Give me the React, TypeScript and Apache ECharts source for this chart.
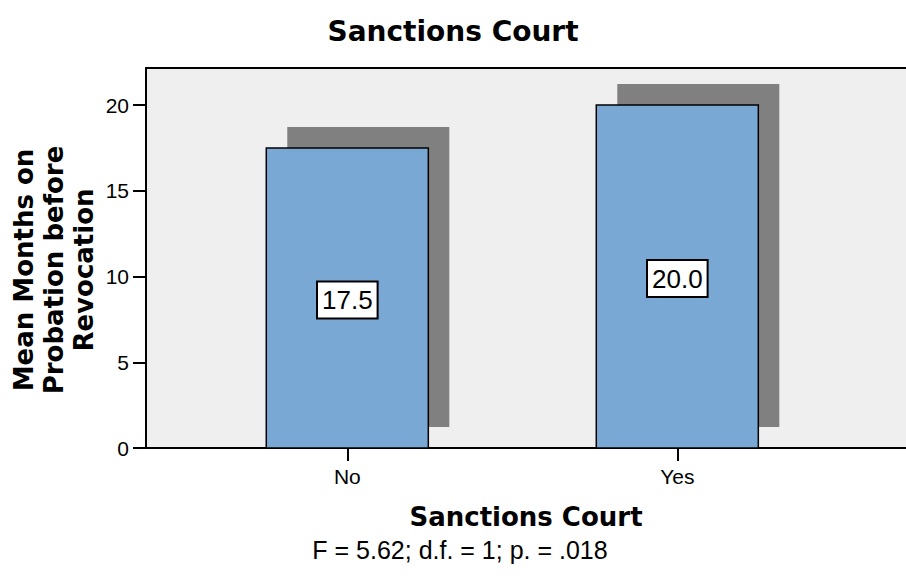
import React, { useEffect, useRef } from "react";
import * as echarts from "echarts";

const categories = ["No", "Yes"];
const means = [17.5, 20.0];
const yTickValues = [0, 5, 10, 15, 20];
const chartTitle = "Sanctions Court";
const xTitle = "Sanctions Court";
const yTitle = "Mean Months on\nProbation before\nRevocation";
const footnote = "F = 5.62; d.f. = 1; p. = .018";

const BAR_W = 0.491;
const SHADOW = 21;
const BAR_COLOR = "#7aa8d5";
const SHADOW_COLOR = "#808080";
const SANS = "'Liberation Sans', Arial, sans-serif";
const BOLD = "'DejaVu Sans', sans-serif";

export default function App() {
  const ref = useRef<HTMLDivElement>(null);
  useEffect(() => {
    if (!ref.current) return;
    const chart = echarts.init(ref.current, null, { renderer: "svg" });
    const data = categories.map((c, i) => [i, means[i]]);
    const option: any = {
      animation: false,
      backgroundColor: "#ffffff",
      title: [
        {
          text: chartTitle,
          left: "center",
          top: 12,
          textStyle: { fontFamily: BOLD, fontWeight: "bold", fontSize: 28, color: "#000" },
        },
        {
          text: footnote,
          left: 455,
          textAlign: "center",
          top: 532,
          textStyle: { fontFamily: SANS, fontWeight: "normal", fontSize: 25, color: "#000" },
        },
      ],
      graphic: [
        {
          type: "text",
          x: 54,
          y: 270,
          rotation: Math.PI / 2,
          style: {
            text: yTitle,
            fontFamily: BOLD,
            fontWeight: "bold",
            fontSize: 26,
            lineHeight: 30,
            fill: "#000",
            align: "center",
            verticalAlign: "middle",
          },
        },
      ],
      grid: {
        left: 146,
        right: 0,
        top: 68,
        bottom: 139,
        show: true,
        backgroundColor: "#efefef",
        borderWidth: 0,
      },
      xAxis: [
        {
          type: "value",
          min: -0.61,
          max: 1.693,
          splitLine: { show: false },
          axisLine: { show: true, onZero: false, lineStyle: { color: "#000", width: 2 } },
          axisTick: {
            show: true,
            length: 13,
            customValues: [0, 1],
            lineStyle: { color: "#000", width: 2 },
          },
          axisLabel: {
            customValues: [0, 1],
            formatter: (v: number) => categories[Math.round(v)] ?? "",
            fontFamily: SANS,
            fontSize: 21,
            color: "#000",
            margin: 18,
          },
          name: xTitle,
          nameLocation: "middle",
          nameGap: 56,
          nameTextStyle: { fontFamily: BOLD, fontWeight: "bold", fontSize: 26, color: "#000" },
        },
        {
          type: "value",
          position: "top",
          min: -0.61,
          max: 1.693,
          splitLine: { show: false },
          axisLine: { show: true, onZero: false, lineStyle: { color: "#000", width: 2 } },
          axisTick: { show: false },
          axisLabel: { show: false },
        },
      ],
      yAxis: {
        type: "value",
        min: 0,
        max: 22.16,
        splitLine: { show: false },
        axisLine: { show: true, onZero: false, lineStyle: { color: "#000", width: 2 } },
        axisTick: {
          show: true,
          length: 13,
          customValues: yTickValues,
          lineStyle: { color: "#000", width: 2 },
        },
        axisLabel: {
          customValues: yTickValues,
          fontFamily: SANS,
          fontSize: 21,
          color: "#000",
          margin: 17,
        },
      },
      series: [
        {
          type: "custom",
          xAxisIndex: 0,
          yAxisIndex: 0,
          data,
          encode: { x: 0, y: 1 },
          renderItem: (params: any, api: any) => {
            const idx = api.value(0);
            const val = api.value(1);
            const base = api.coord([idx, 0]);
            const top = api.coord([idx, val]);
            const w = api.size([BAR_W, 0])[0];
            const x0 = base[0] - w / 2;
            const h = base[1] - top[1];
            return {
              type: "group",
              children: [
                {
                  type: "rect",
                  shape: { x: x0 + SHADOW, y: top[1] - SHADOW, width: w, height: h },
                  style: { fill: SHADOW_COLOR },
                },
                {
                  type: "rect",
                  shape: { x: x0, y: top[1], width: w, height: h },
                  style: { fill: BAR_COLOR, stroke: "#000", lineWidth: 1.5 },
                },
                {
                  type: "text",
                  x: base[0],
                  y: (top[1] + base[1]) / 2 + 2,
                  style: {
                    text: val.toFixed(1),
                    fontFamily: SANS,
                    fontSize: 26,
                    fill: "#000",
                    align: "center",
                    verticalAlign: "middle",
                    backgroundColor: "#ffffff",
                    borderColor: "#000",
                    borderWidth: 2,
                    padding: [5, 4, 4, 4],
                  },
                },
              ],
            };
          },
        },
      ],
    };
    chart.setOption(option);
    return () => chart.dispose();
  }, []);
  return (
    <div
      ref={ref}
      style={{ position: "fixed", left: 0, top: 0, width: 906, height: 587 }}
    />
  );
}
